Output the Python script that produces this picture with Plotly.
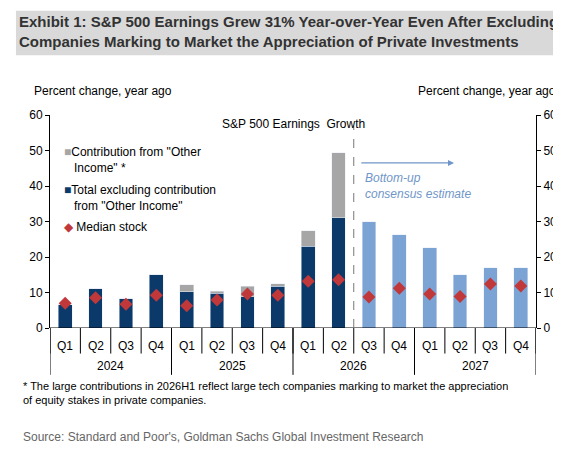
import plotly.graph_objects as go

quarters = ["Q1", "Q2", "Q3", "Q4"] * 4
years = ["2024", "2025", "2026", "2027"]
base = [6.5, 11, 8.2, 15, 10.2, 9.8, 8.8, 11.8, 23, 31]
other = [0, 0, 0, 0, 2, 0.6, 3, 0.6, 4.4, 18.3]
estimate = [30, 26.2, 22.6, 15, 17, 17]
median = [7, 8.5, 6.7, 9.2, 6.3, 7.9, 9.6, 9.2, 13.2, 13.6, 8.7, 11.2, 9.6, 8.9, 12.4, 11.8]

xa = list(range(len(base)))
xe = list(range(len(base), len(base) + len(estimate)))
xm = list(range(len(median)))

fig = go.Figure()
fig.add_bar(x=xa, y=base, marker_color="#0b3a6a", width=0.45)
fig.add_bar(x=xa, y=other, marker_color="#a6a6a6", width=0.45)
fig.add_bar(x=xe, y=estimate, marker_color="#7ba3d4", width=0.45)
fig.add_scatter(x=xm, y=median, mode="markers",
                marker=dict(symbol="diamond", size=10, color="#c0383a"))
# invisible trace so the right axis is drawn
fig.add_scatter(x=[0], y=[0], yaxis="y2", mode="markers", marker_opacity=0, hoverinfo="skip")

ann = []
for i, q in enumerate(quarters):
    ann.append(dict(x=i, y=-0.04, yref="paper", text=q, showarrow=False, yanchor="top"))
for j, yr in enumerate(years):
    ann.append(dict(x=j * 4 + 1.5, y=-0.135, yref="paper", text=yr, showarrow=False, yanchor="top"))

shapes = []
for k in range(5):
    xs = k * 4 - 0.5
    shapes.append(dict(type="line", x0=xs, x1=xs, y0=0, y1=-0.22, yref="paper",
                       line=dict(color="#000", width=1)))
for k in range(17):
    xs = k - 0.5
    shapes.append(dict(type="line", x0=xs, x1=xs, y0=0, y1=-0.12, yref="paper",
                       line=dict(color="#000", width=1)))
shapes.append(dict(type="line", x0=-0.5, x1=15.5, y0=0, y1=0, line=dict(color="#000", width=1)))
shapes.append(dict(type="line", x0=9.5, x1=9.5, y0=0, y1=57, line=dict(color="#777", width=1, dash="dash")))
# title band
shapes.append(dict(type="rect", xref="paper", yref="paper", x0=-0.07, x1=1.05, y0=1.28, y1=1.49,
                   fillcolor="#d9d9d9", line_width=0, layer="below"))

ann.append(dict(x=12.8, y=46.5, ax=9.7, ay=46.5, axref="x", ayref="y", text="", showarrow=True,
                arrowhead=2, arrowsize=1, arrowwidth=1.2, arrowcolor="#6f96c8"))
ann.append(dict(x=9.8, y=40, text="<i>Bottom-up<br>consensus estimate</i>", showarrow=False,
                xanchor="left", align="left", font=dict(size=12, color="#6f96c8")))
ann.append(dict(x=0.5, y=1.0, xref="paper", yref="paper", text="S&P 500 Earnings  Growth",
                showarrow=False, yanchor="top"))
ann.append(dict(x=-0.1, y=52, xanchor="left", yanchor="top", align="left", showarrow=False,
                text="<span style='color:#a6a6a6'>■</span>Contribution from \"Other<br>   Income\" *"))
ann.append(dict(x=-0.1, y=41.5, xanchor="left", yanchor="top", align="left", showarrow=False,
                text="<span style='color:#0b3a6a'>■</span>Total excluding contribution<br>   from \"Other Income\""))
ann.append(dict(x=-0.1, y=31, xanchor="left", yanchor="top", align="left", showarrow=False,
                text="<span style='color:#c0383a'>◆</span> Median stock"))
ann.append(dict(x=0, y=1.07, xref="paper", yref="paper", xanchor="left", yanchor="bottom",
                showarrow=False, text="Percent change, year ago", xshift=-18))
ann.append(dict(x=1, y=1.07, xref="paper", yref="paper", xanchor="right", yanchor="bottom",
                showarrow=False, text="Percent change, year ago", xshift=22))
ann.append(dict(x=-0.068, y=1.49, xref="paper", yref="paper", xanchor="left", yanchor="top",
                showarrow=False, align="left",
                text="<b>Exhibit 1: S&P 500 Earnings Grew 31% Year-over-Year Even After Excluding<br>Companies Marking to Market the Appreciation of Private Investments</b>",
                font=dict(size=15, color="#333")))
ann.append(dict(x=-0.06, y=-0.235, xref="paper", yref="paper", xanchor="left", yanchor="top",
                showarrow=False, align="left",
                text="* The large contributions in 2026H1 reflect large tech companies marking to market the appreciation<br>of equity stakes in private companies.",
                font=dict(size=11)))
ann.append(dict(x=-0.06, y=-0.47, xref="paper", yref="paper", xanchor="left", yanchor="top",
                showarrow=False, text="Source: Standard and Poor's, Goldman Sachs Global Investment Research",
                font=dict(size=12, color="#666")))

fig.update_layout(
    width=561, height=449, barmode="stack", showlegend=False,
    margin=dict(l=42, r=22, t=107, b=129),
    plot_bgcolor="white", paper_bgcolor="white",
    font=dict(family="Liberation Sans, Arial", size=12, color="#000"),
    xaxis=dict(range=[-0.5, 15.5], showticklabels=False, showgrid=False, zeroline=False),
    yaxis=dict(range=[0, 60], dtick=10, showgrid=False, zeroline=False, ticks="outside",
               ticklen=4, showline=True, linecolor="#000", tickcolor="#000"),
    yaxis2=dict(range=[0, 60], dtick=10, overlaying="y", side="right", showgrid=False,
                zeroline=False, ticks="outside", ticklen=4, showline=True, linecolor="#000",
                tickcolor="#000"),
    annotations=ann, shapes=shapes,
)
fig.write_html("out.html")
